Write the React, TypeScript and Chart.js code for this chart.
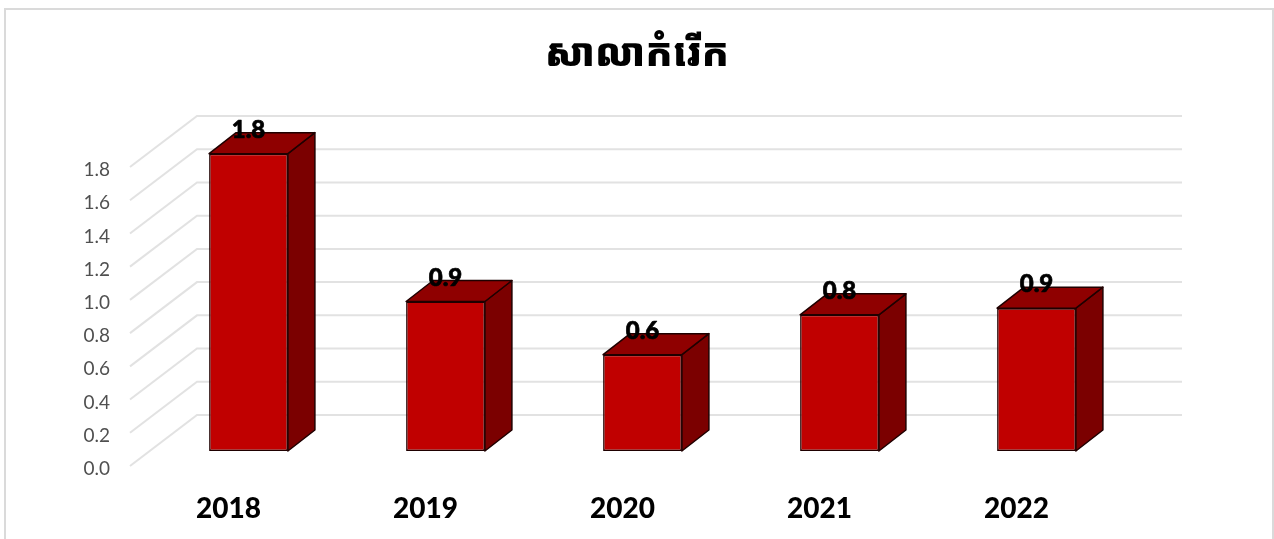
import React, { useEffect, useRef } from "react";
import { Chart, registerables } from "chart.js";

Chart.register(...registerables);

const years = ["2018", "2019", "2020", "2021", "2022"];
const values = [1.79, 0.9, 0.58, 0.82, 0.86];
const chartTitle = "សាលាកំរើក";
const FRONT = "#C00000";
const TOP = "#8F0000";
const SIDE = "#7B0000";
const GRID = "#E2E2E2";
const FLOOR_DX = 67;
const FLOOR_DY = -51;
const BAR_DX = 20;
const BAR_DY = -15;
const DEPTH_DX = 27;
const DEPTH_DY = -21;

const frame3d = {
  id: "frame3d",
  beforeDraw(chart: any) {
    const { ctx, width, height } = chart;
    ctx.save();
    ctx.fillStyle = "#fff";
    ctx.fillRect(0, 0, width, height);
    ctx.strokeStyle = "#DADADA";
    ctx.lineWidth = 2;
    ctx.strokeRect(5, 9, width - 6, height + 20);
    ctx.restore();
  },
  beforeDatasetsDraw(chart: any) {
    const { ctx, chartArea, scales } = chart;
    ctx.save();
    ctx.strokeStyle = GRID;
    ctx.lineWidth = 2;
    for (const t of scales.y.ticks) {
      const y = scales.y.getPixelForValue(t.value);
      ctx.beginPath();
      ctx.moveTo(chartArea.left, y);
      ctx.lineTo(chartArea.left + FLOOR_DX, y + FLOOR_DY);
      ctx.lineTo(chartArea.right + FLOOR_DX, y + FLOOR_DY);
      ctx.stroke();
    }
    ctx.restore();

    ctx.save();
    ctx.translate(BAR_DX, BAR_DY);
    ctx.strokeStyle = "#1F0000";
    ctx.lineWidth = 1.5;
    ctx.lineJoin = "round";
    chart.getDatasetMeta(0).data.forEach((bar: any) => {
      const { x, y, base, width: w } = bar.getProps(["x", "y", "base", "width"], true);
      const l = x - w / 2;
      const r = x + w / 2;
      ctx.fillStyle = SIDE;
      ctx.beginPath();
      ctx.moveTo(r, y);
      ctx.lineTo(r + DEPTH_DX, y + DEPTH_DY);
      ctx.lineTo(r + DEPTH_DX, base + DEPTH_DY);
      ctx.lineTo(r, base);
      ctx.closePath();
      ctx.fill();
      ctx.stroke();
      ctx.fillStyle = TOP;
      ctx.beginPath();
      ctx.moveTo(l, y);
      ctx.lineTo(l + DEPTH_DX, y + DEPTH_DY);
      ctx.lineTo(r + DEPTH_DX, y + DEPTH_DY);
      ctx.lineTo(r, y);
      ctx.closePath();
      ctx.fill();
      ctx.stroke();
    });
    // the bars themselves stay in this shifted plane until afterDatasetsDraw
  },
  afterDatasetsDraw(chart: any) {
    const { ctx } = chart;
    const meta = chart.getDatasetMeta(0);
    meta.data.forEach((bar: any, i: number) => {
      const { x, y } = bar.getProps(["x", "y"], true);
      ctx.fillStyle = "#000";
      ctx.strokeStyle = "#000";
      ctx.lineWidth = 0.7;
      ctx.font = "900 24px Lato, 'Open Sans', sans-serif";
      ctx.textAlign = "center";
      ctx.textBaseline = "middle";
      const label = values[i].toFixed(1);
      ctx.fillText(label, x, y - 23.5);
      ctx.strokeText(label, x, y - 23.5);
    });
    ctx.restore();
  },
};

export default function App() {
  const ref = useRef<HTMLCanvasElement | null>(null);
  useEffect(() => {
    document.body.style.margin = "0";
    const chart = new Chart(ref.current as HTMLCanvasElement, {
      type: "bar",
      data: {
        labels: years,
        datasets: [
          {
            data: values,
            backgroundColor: FRONT,
            borderColor: "#1F0000",
            borderWidth: 1.5,
            borderSkipped: false,
            barPercentage: 0.4,
            categoryPercentage: 1,
          },
        ],
      },
      options: {
        animation: false,
        responsive: false,
        layout: { padding: 0 },
        plugins: {
          legend: { display: false },
          tooltip: { enabled: false },
          title: {
            display: true,
            text: chartTitle,
            color: "#000",
            font: { size: 39, weight: "900", family: "'Noto Sans Khmer', Khmer, 'Noto Sans', sans-serif", lineHeight: 1.2 },
            padding: { top: 31, bottom: 167 - 31 - 46.8 },
          },
        },
        scales: {
          x: {
            grid: { display: false },
            border: { display: false },
            ticks: {
              color: "#000",
              font: { size: 28, weight: "900", family: "Lato, 'Open Sans', sans-serif" },
              padding: 18,
              maxRotation: 0,
            },
            afterFit(s: any) {
              s.height = 73;
            },
          },
          y: {
            min: 0,
            max: 1.8,
            grid: { display: false },
            border: { display: false },
            ticks: {
              stepSize: 0.2,
              color: "#505050",
              font: { size: 19, family: "Lato, 'Open Sans', sans-serif" },
              padding: 12,
              labelOffset: 3,
              callback: (v: any) => Number(v).toFixed(1),
            },
            afterFit(s: any) {
              s.width = 130;
            },
          },
          spacer: {
            type: "linear",
            position: "right",
            grid: { display: false },
            border: { display: false },
            ticks: { display: false },
            afterFit(s: any) {
              s.width = 159;
            },
          },
        },
      },
      plugins: [frame3d],
    } as any);
    return () => chart.destroy();
  }, []);
  return <canvas ref={ref} width={1274} height={539} style={{ display: "block" }} />;
}
